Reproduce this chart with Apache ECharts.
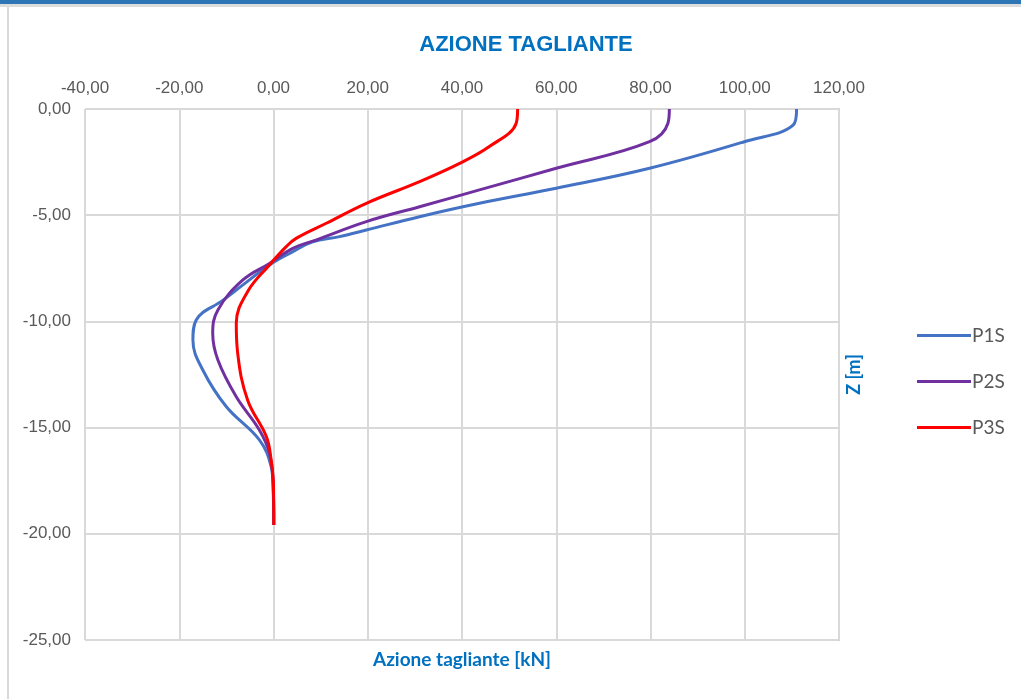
<!DOCTYPE html>
<html>
<head>
<meta charset="utf-8">
<script src="https://cdn.jsdelivr.net/npm/echarts@6/dist/echarts.min.js"></script>
<style>
html,body{margin:0;padding:0;background:#fff;}
#chart{width:1021px;height:699px;}
</style>
</head>
<body>
<div id="chart"></div>
<script>
// Depth (m) and shear force (kN) readings for each series
var p1sDepth = [0, -0.75, -1.54, -2.79, -3.73, -4.44, -5.07, -5.70, -6.01, -6.25, -6.72, -7.34, -8.2, -9.0, -9.93, -10.88, -12.29, -14.02, -15.58, -16.84, -17.78, -19.59];
var p1sShear = [111.0, 110.3, 99.9, 79.8, 60.0, 43.7, 31.0, 19.7, 14.0, 8.3, 4.1, -0.85, -6.0, -10.7, -16.4, -17.1, -15.0, -10.0, -3.0, -0.5, -0.1, 0.06];
var p2sDepth = [0, -0.67, -1.54, -2.79, -3.81, -4.6, -5.30, -6.17, -6.56, -7.27, -8.05, -9.46, -10.56, -11.82, -13.55, -15.11, -16.2, -17.47, -19.59];
var p2sShear = [84.0, 83.7, 79.8, 60.0, 43.7, 31.0, 19.7, 9.0, 4.1, -0.85, -6.5, -11.8, -12.9, -11.8, -7.9, -3.0, -0.85, -0.1, 0.06];
var p3sDepth = [0, -0.67, -1.77, -2.56, -3.42, -4.44, -5.38, -6.09, -6.48, -7.34, -8.6, -10.09, -11.5, -13.7, -15.43, -16.53, -17.78, -19.59];
var p3sShear = [51.8, 51.5, 45.8, 39.5, 31.0, 19.7, 11.2, 4.8, 2.7, -0.85, -5.5, -7.9, -7.6, -5.5, -1.5, -0.5, 0.0, 0.06];
var seriesNames = ['P1S', 'P2S', 'P3S'];
var seriesColors = ['#4472c4', '#7030a0', '#ff0000'];
var xTicks = {min: -40, max: 120, interval: 20};
var yTicks = {min: -25, max: 0, interval: 5};

function pairs(vals, depths) {
  return vals.map(function (v, i) { return [v, depths[i]]; });
}
function fmt(v) { return v.toFixed(2).replace('.', ','); }

var chart = echarts.init(document.getElementById('chart'));
var gridColor = '#d9d9d9';
var labelFont = '"Liberation Sans Narrow", "Liberation Sans", Arial, sans-serif';
var uiFont = 'Lato, "Open Sans", sans-serif';
var allData = [[p1sShear, p1sDepth], [p2sShear, p2sDepth], [p3sShear, p3sDepth]];

chart.setOption({
  backgroundColor: '#fff',
  animation: false,
  title: {
    text: 'AZIONE TAGLIANTE',
    left: 521, top: 29, textAlign: 'center',
    textStyle: {color: '#0070c0', fontSize: 22, fontWeight: 'bold', fontFamily: labelFont}
  },
  legend: {
    orient: 'vertical',
    left: 912, top: 321,
    itemWidth: 54, itemHeight: 3, itemGap: 27,
    icon: 'rect',
    textStyle: {color: '#595959', fontSize: 19, fontFamily: uiFont, padding: [0, 0, 0, -4]},
    data: seriesNames
  },
  grid: {left: 85, right: 182, top: 109, bottom: 59, containLabel: false},
  xAxis: [{
    type: 'value', position: 'top',
    min: xTicks.min, max: xTicks.max, interval: xTicks.interval,
    axisLine: {show: false}, axisTick: {show: false},
    axisLabel: {color: '#595959', fontSize: 17, fontFamily: labelFont, margin: 12, formatter: fmt},
    splitLine: {show: true, lineStyle: {color: gridColor, width: 2}}
  }, {
    type: 'value', position: 'bottom',
    min: xTicks.min, max: xTicks.max,
    axisLine: {show: false}, axisTick: {show: false}, axisLabel: {show: false},
    splitLine: {show: false},
    name: 'Azione tagliante [kN]', nameLocation: 'middle', nameGap: 10,
    nameTextStyle: {color: '#0070c0', fontSize: 19, fontWeight: 'bold', fontFamily: uiFont}
  }],
  yAxis: {
    type: 'value',
    min: yTicks.min, max: yTicks.max, interval: yTicks.interval,
    axisLine: {show: false}, axisTick: {show: false},
    axisLabel: {color: '#595959', fontSize: 17, fontFamily: labelFont, margin: 14, formatter: fmt},
    splitLine: {show: true, lineStyle: {color: gridColor, width: 2}},
    name: 'Z [m]', nameLocation: 'middle', nameGap: -778, nameRotate: 90,
    nameTextStyle: {color: '#0070c0', fontSize: 18, fontWeight: 'bold', fontFamily: uiFont}
  },
  graphic: [
    {type: 'rect', shape: {x: 0, y: 0, width: 1021, height: 4}, style: {fill: '#2e75b6'}, silent: true},
    {type: 'rect', shape: {x: 0, y: 4, width: 1021, height: 3}, style: {fill: '#dcdcdc'}, silent: true},
    {type: 'rect', shape: {x: 7, y: 7, width: 2, height: 692}, style: {fill: '#d9d9d9'}, silent: true},
    {type: 'rect', shape: {x: 838, y: 108, width: 2, height: 533}, style: {fill: '#d0d0d0'}, silent: true}
  ],
  series: seriesNames.map(function (n, i) {
    return {
      name: n, type: 'line', xAxisIndex: 0,
      data: pairs(allData[i][0], allData[i][1]),
      smooth: 0.4, showSymbol: false, symbol: 'none',
      lineStyle: {color: seriesColors[i], width: 3},
      itemStyle: {color: seriesColors[i]}
    };
  })
});
</script>
</body>
</html>
